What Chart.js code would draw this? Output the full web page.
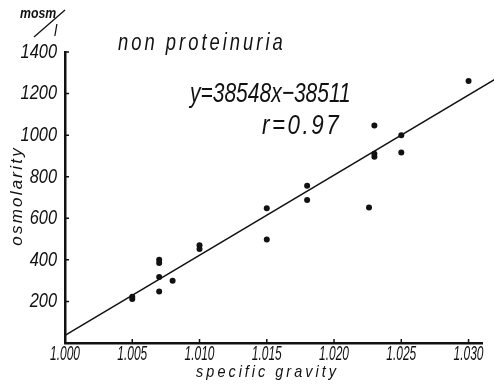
<!DOCTYPE html>
<html><head><meta charset="utf-8">
<script src="https://cdn.jsdelivr.net/npm/chart.js@4/dist/chart.umd.min.js"></script>
<style>html,body{margin:0;padding:0;background:#fff}canvas{display:block}</style>
</head><body>
<canvas id="c" width="494" height="387"></canvas>
<script>
// Measured samples: urine specific gravity vs. osmolarity (mosm/l)
const specificGravity = [1.005, 1.005, 1.007, 1.007, 1.007, 1.007, 1.008, 1.010, 1.010,
  1.015, 1.015, 1.018, 1.018, 1.0226, 1.023, 1.023, 1.023, 1.025, 1.025, 1.030];
const osmolarity = [212, 222, 400, 385, 318, 248, 300, 470, 452,
  648, 498, 757, 688, 652, 1046, 910, 896, 1000, 916, 1260];
const xTicks = [1.000, 1.005, 1.010, 1.015, 1.020, 1.025, 1.030];
const yTicks = [200, 400, 600, 800, 1000, 1200, 1400];
// Regression line y = 38548x - 38511
const slope = 38548;
const intercept = -38511;
const fitRange = [1.000, 1.032];

const FONT = "'Liberation Sans', Arial, sans-serif";
const INK = '#111';

const points = specificGravity.map((x, i) => ({ x, y: osmolarity[i] }));
const fitLine = fitRange.map(x => ({ x, y: slope * x + intercept }));

// Condensed, hand-lettered style text: horizontal squeeze + letter spacing
function letter(ctx, s, x, y, o) {
  const sx = o.sx || 1;
  ctx.save();
  ctx.translate(x, y);
  if (o.rot) ctx.rotate(o.rot);
  ctx.scale(sx, 1);
  ctx.font = (o.weight || '') + ' italic ' + o.size + 'px ' + FONT;
  ctx.letterSpacing = ((o.spacing || 0) / sx) + 'px';
  ctx.textBaseline = o.baseline || 'alphabetic';
  ctx.textAlign = 'left';
  const w = ctx.measureText(s).width - (o.spacing || 0) / sx;
  const off = o.align === 'center' ? -w / 2 : o.align === 'right' ? -w : 0;
  ctx.fillText(s, off, 0);
  ctx.restore();
}

// Tick labels and inward tick marks on both axes
const axisMarks = {
  id: 'axisMarks',
  afterDraw(chart) {
    const { ctx, chartArea: a, scales: { x, y } } = chart;
    ctx.save();
    ctx.strokeStyle = INK;
    ctx.fillStyle = INK;
    ctx.lineWidth = 1.5;
    ctx.beginPath();
    y.ticks.forEach(t => { const p = y.getPixelForValue(t.value); ctx.moveTo(a.left, p); ctx.lineTo(a.left + 4, p); });
    x.ticks.forEach(t => { const p = x.getPixelForValue(t.value); ctx.moveTo(p, a.bottom); ctx.lineTo(p, a.bottom - 4); });
    ctx.stroke();
    y.ticks.forEach(t => {
      letter(ctx, String(t.value), a.left - 8, y.getPixelForValue(t.value), { size: 21, sx: 0.78, align: 'right', baseline: 'middle' });
    });
    x.ticks.forEach(t => {
      letter(ctx, t.value.toFixed(3), x.getPixelForValue(t.value), a.bottom + 17, { size: 21, sx: 0.57, align: 'center' });
    });
    ctx.restore();
  }
};

// Heading, regression equation, unit and axis titles
const annotations = {
  id: 'annotations',
  afterDraw(chart) {
    const ctx = chart.ctx;
    ctx.save();
    ctx.fillStyle = INK;
    ctx.strokeStyle = INK;

    letter(ctx, 'non proteinuria', 118, 50, { size: 23, sx: 0.8, spacing: 3 });
    letter(ctx, 'y=38548x\u221238511', 190, 102, { size: 28, sx: 0.75 });
    letter(ctx, 'r=0.97', 262, 134, { size: 28, sx: 0.8, spacing: 2.5 });

    // unit mosm / l
    letter(ctx, 'mosm', 20, 18, { size: 15, sx: 0.82, weight: 'bold' });
    letter(ctx, 'l', 54, 36, { size: 16, sx: 0.9 });
    ctx.lineWidth = 1.3;
    ctx.beginPath();
    ctx.moveTo(65, 10);
    ctx.lineTo(34, 37);
    ctx.stroke();

    // axis titles
    letter(ctx, 'specific gravity', 266, 377, { size: 17, sx: 0.85, spacing: 3, align: 'center' });
    letter(ctx, 'osmolarity', 22, 197, { size: 17, spacing: 2.2, align: 'center', rot: -Math.PI / 2 });
    ctx.restore();
  }
};

new Chart(document.getElementById('c'), {
  type: 'scatter',
  data: {
    datasets: [
      {
        data: points,
        pointRadius: 3,
        pointHoverRadius: 3,
        backgroundColor: INK,
        borderColor: INK,
        borderWidth: 0
      },
      {
        type: 'line',
        data: fitLine,
        showLine: true,
        pointRadius: 0,
        borderColor: INK,
        borderWidth: 1.5,
        fill: false,
        clip: false
      }
    ]
  },
  options: {
    responsive: false,
    animation: false,
    events: [],
    layout: { padding: { left: 0, top: 52, right: 12, bottom: 0 } },
    plugins: { legend: { display: false }, tooltip: { enabled: false } },
    scales: {
      x: {
        type: 'linear',
        min: 1.000,
        max: 1.031,
        afterBuildTicks: s => { s.ticks = xTicks.map(v => ({ value: v })); },
        afterFit: s => { s.height = 44; },
        grid: { display: false, drawTicks: false },
        border: { display: true, color: INK, width: 2.5 },
        ticks: { display: false }
      },
      y: {
        type: 'linear',
        min: 0,
        max: 1400,
        afterBuildTicks: s => { s.ticks = yTicks.map(v => ({ value: v })); },
        afterFit: s => { s.width = 65; },
        grid: { display: false, drawTicks: false },
        border: { display: true, color: INK, width: 2.5 },
        ticks: { display: false }
      }
    }
  },
  plugins: [axisMarks, annotations]
});
</script>
</body></html>
